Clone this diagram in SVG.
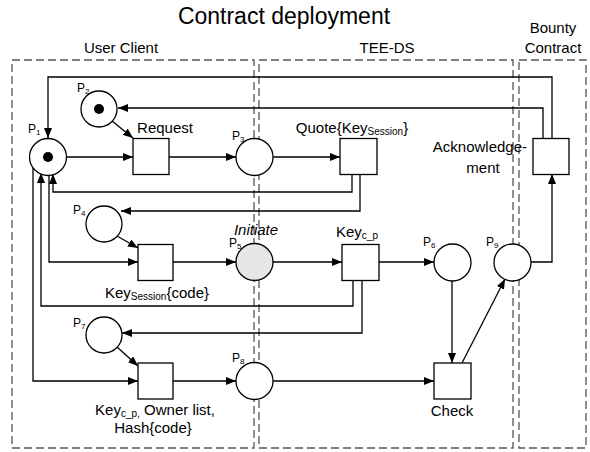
<svg xmlns="http://www.w3.org/2000/svg" width="590" height="452" viewBox="0 0 590 452">
<style>
text{font-family:"Liberation Sans",Arial,sans-serif;fill:#000}
.t{font-size:15px}
.h{font-size:15px;text-anchor:middle}
.p{font-size:12px}
.box{fill:none;stroke:#555;stroke-width:1.3;stroke-dasharray:8 4}
.pl{fill:#fff;stroke:#000;stroke-width:1.3}
.tr{fill:#fff;stroke:#000;stroke-width:1.3}
.c{fill:none;stroke:#000;stroke-width:1.3}
.a{marker-end:url(#ah)}
</style>
<defs>
<marker id="ah" viewBox="0 0 10 8" refX="10" refY="4" markerWidth="10" markerHeight="8" markerUnits="userSpaceOnUse" orient="auto">
<path d="M0,0 L10,4 L0,8 z" fill="#000"/>
</marker>
</defs>
<rect width="590" height="452" fill="#fff"/>
<text x="284" y="24" style="font-size:23px;text-anchor:middle">Contract deployment</text>
<g id="lanes">
<rect class="box" x="12" y="60" width="242" height="388"/>
<rect class="box" x="259" y="60" width="254" height="388"/>
<rect class="box" x="519" y="60" width="67" height="388"/>
<text class="h" x="121" y="53">User Client</text>
<text class="h" x="387" y="53">TEE-DS</text>
<text class="h" x="553" y="33">Bounty</text>
<text class="h" x="553" y="53">Contract</text>
</g>
<g id="connectors">
<polyline class="c a" points="552,138 552,77 48,77 48,138"/>
<polyline class="c a" points="543,138 543,108 118,108"/>
<line class="c a" x1="112" y1="121" x2="133" y2="138"/>
<line class="c a" x1="67" y1="157" x2="133" y2="157"/>
<line class="c a" x1="169" y1="157" x2="236" y2="157"/>
<line class="c a" x1="273" y1="157" x2="340" y2="157"/>
<polyline class="c a" points="352,174 352,192 53,192 53,174"/>
<polyline class="c a" points="360,174 360,211 121,211"/>
<line class="c a" x1="117" y1="236" x2="138" y2="248"/>
<polyline class="c a" points="49,175 49,262 138,262"/>
<line class="c a" x1="173" y1="262" x2="236" y2="262"/>
<line class="c a" x1="273" y1="262" x2="342" y2="262"/>
<line class="c a" x1="379" y1="262" x2="434" y2="262"/>
<polyline class="c a" points="353,280 353,306 41,306 41,173"/>
<polyline class="c a" points="362,280 362,333 122,333"/>
<line class="c a" x1="117" y1="347" x2="138" y2="366"/>
<polyline class="c a" points="33,167 33,381 138,381"/>
<line class="c a" x1="173" y1="381" x2="236" y2="381"/>
<line class="c a" x1="273" y1="381" x2="434" y2="381"/>
<line class="c a" x1="452" y1="281" x2="452" y2="363"/>
<line class="c a" x1="462" y1="363" x2="505" y2="279"/>
<polyline class="c a" points="531,262 552,262 552,174"/>
</g>
<g id="P1"><circle class="pl" cx="48" cy="157" r="18.5"/><circle cx="48" cy="157" r="5" fill="#000"/><text class="p" x="28" y="133">P<tspan font-size="8" dy="2">1</tspan></text></g>
<g id="P2"><circle class="pl" cx="99" cy="109" r="18"/><circle cx="99" cy="109" r="5" fill="#000"/><text class="p" x="77" y="92">P<tspan font-size="8" dy="2">2</tspan></text></g>
<g id="P3"><circle class="pl" cx="254.5" cy="157" r="18.5"/><text class="p" x="232" y="140">P<tspan font-size="8" dy="2">3</tspan></text></g>
<g id="P4"><circle class="pl" cx="104" cy="224" r="18"/><text class="p" x="73" y="214">P<tspan font-size="8" dy="2">4</tspan></text></g>
<g id="P5"><circle cx="254.5" cy="262" r="18.5" fill="#e6e6e6" stroke="#000" stroke-width="1.3"/><text class="p" x="229" y="247">P<tspan font-size="8" dy="2">5</tspan></text><text x="256" y="235" style="font-size:15px;font-style:italic;text-anchor:middle">Initiate</text></g>
<g id="P6"><circle class="pl" cx="452.5" cy="262.5" r="18.5"/><text class="p" x="423" y="246">P<tspan font-size="8" dy="2">6</tspan></text></g>
<g id="P7"><circle class="pl" cx="104" cy="335" r="18"/><text class="p" x="73" y="327">P<tspan font-size="8" dy="2">7</tspan></text></g>
<g id="P8"><circle class="pl" cx="254.5" cy="381" r="18.5"/><text class="p" x="232" y="362">P<tspan font-size="8" dy="2">8</tspan></text></g>
<g id="P9"><circle class="pl" cx="512.5" cy="262.5" r="18.5"/><text class="p" x="486" y="246">P<tspan font-size="8" dy="2">9</tspan></text></g>
<g id="Request"><rect class="tr" x="133" y="138.5" width="36" height="36"/><text class="h" x="165" y="133">Request</text></g>
<g id="Quote"><rect class="tr" x="340" y="138.5" width="37" height="36"/><text class="h" x="352" y="133">Quote{Key<tspan font-size="10" dy="2">Session</tspan><tspan dy="-2">}</tspan></text></g>
<g id="Acknowledgement"><rect class="tr" x="533" y="138.5" width="36" height="36"/><text x="527" y="152" class="t" text-anchor="end">Acknowledge-</text><text class="h" x="483" y="173">ment</text></g>
<g id="KeySessionCode"><rect class="tr" x="138" y="244.5" width="35" height="36"/><text class="h" x="157" y="298">Key<tspan font-size="10" dy="2">Session</tspan><tspan dy="-2">{code}</tspan></text></g>
<g id="Keycp"><rect class="tr" x="342" y="244.5" width="37" height="36"/><text class="h" x="357" y="237">Key<tspan font-size="10" dy="2">c_p</tspan></text></g>
<g id="KeycpOwner"><rect class="tr" x="138" y="363" width="35" height="36"/><text class="h" x="155" y="415">Key<tspan font-size="10" dy="2">c_p,</tspan><tspan dy="-2"> Owner list,</tspan></text><text class="h" x="153" y="433">Hash{code}</text></g>
<g id="Check"><rect class="tr" x="434" y="363" width="37" height="36"/><text class="h" x="452" y="416">Check</text></g>
</svg>
